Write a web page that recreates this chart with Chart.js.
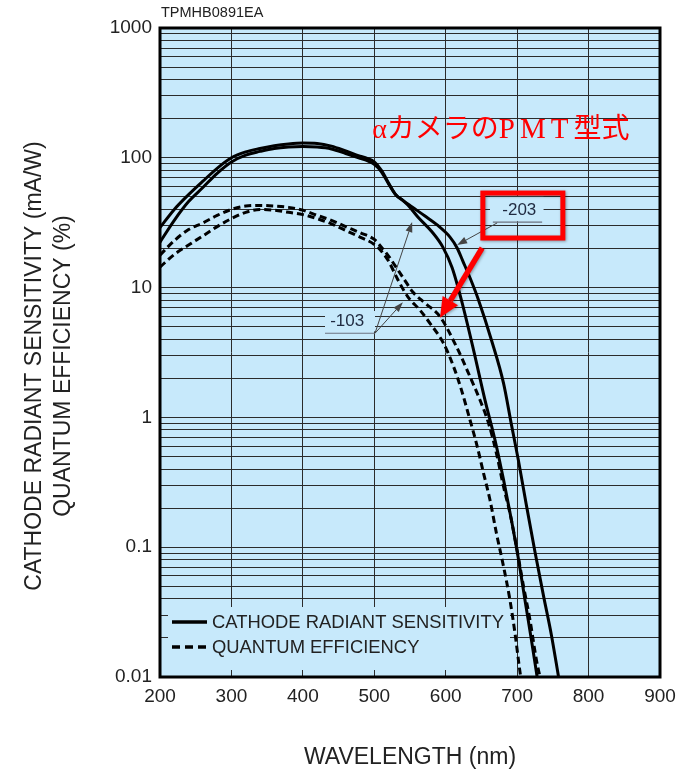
<!DOCTYPE html>
<html>
<head>
<meta charset="utf-8">
<script src="https://cdn.jsdelivr.net/npm/chart.js@4.4.1/dist/chart.umd.min.js"></script>
<style>
  html, body { margin: 0; padding: 0; background: #ffffff; }
  canvas { display: block; }
</style>
</head>
<body>
<canvas id="chart" width="679" height="773"></canvas>
<script>
// Axis ticks
const xTicks = [200, 300, 400, 500, 600, 700, 800, 900];
const decadeValues = [0.01, 0.1, 1, 10, 100, 1000];
const decadeLabels = ['0.01', '0.1', '1', '10', '100', '1000'];

// Cathode radiant sensitivity (mA/W), type -203
const sens203Nm = [200, 220, 240, 260, 280, 300, 320, 340, 360, 380, 400, 420, 440, 460, 480, 490, 500, 510, 520, 530, 540, 553, 571, 588, 606, 616, 624, 634, 646, 664, 681, 692, 702, 713, 725, 737, 748, 758];
const sens203 = [29, 40, 52, 66, 83, 100, 111, 118, 124, 128, 130, 129, 123, 113, 103, 99, 93, 80, 64, 52, 47, 41.8, 35.6, 30.4, 24.5, 20.2, 16, 11.9, 8.0, 3.95, 1.83, 0.88, 0.46, 0.21, 0.092, 0.042, 0.021, 0.01];

// Cathode radiant sensitivity (mA/W), type -103
const sens103Nm = [200, 220, 240, 260, 280, 300, 320, 340, 360, 380, 400, 420, 440, 460, 480, 490, 500, 510, 520, 530, 540, 547, 561, 581, 596, 609, 622, 639, 655, 669, 681, 692, 702, 711, 720, 728];
const sens103 = [22.4, 33, 46, 59, 76, 93, 105, 112, 118, 121, 122, 121, 117, 108, 99, 95, 89, 78, 63, 52, 47, 43.3, 35, 26.8, 20.5, 14.2, 8.0, 3.3, 1.36, 0.67, 0.33, 0.162, 0.08, 0.039, 0.0193, 0.01];

// Quantum efficiency (%), type -203
const qe203Nm = [200, 220, 240, 260, 280, 300, 320, 340, 360, 380, 400, 420, 440, 460, 480, 500, 510, 520, 530, 540, 554, 571, 592, 615, 634, 648, 660, 671, 681, 690, 699, 709, 718, 727, 732];
const qe203 = [17.8, 23, 28, 31.5, 36, 40, 42.5, 43, 42.5, 41.5, 39.5, 36, 33, 29.5, 26.5, 23.5, 20.5, 17.5, 14.5, 12, 9.25, 7.6, 5.97, 3.51, 2.06, 1.36, 0.9, 0.529, 0.292, 0.182, 0.101, 0.0497, 0.0275, 0.0135, 0.01];

// Quantum efficiency (%), type -103
const qe103Nm = [200, 220, 240, 260, 280, 300, 320, 340, 360, 380, 400, 420, 440, 460, 480, 500, 511, 520, 533, 547, 564, 578, 597, 611, 622, 634, 643, 653, 662, 671, 681, 690, 697, 703, 705];
const qe103 = [14.4, 18, 21.3, 25, 29.5, 34, 38, 40, 39.5, 38, 36.5, 34, 31, 27.5, 24.5, 21.5, 18.8, 16, 11.5, 8.5, 6.7, 5.31, 3.72, 2.46, 1.63, 0.955, 0.632, 0.371, 0.231, 0.128, 0.0708, 0.039, 0.0217, 0.012, 0.01];

const FONT = "'Liberation Sans', Arial, Helvetica, sans-serif";
const PLOT_BG = '#c7e9fb';
const GRID = '#2b2b2b';
const INK = '#222222';

function toPoints(nm, vals) {
  return nm.map((x, i) => ({ x: x, y: vals[i] }));
}

// every 1..9 multiple inside each decade gets a grid line
const logTicks = [];
decadeValues.forEach((d, i) => {
  const top = i === decadeValues.length - 1 ? 1 : 9;
  for (let k = 1; k <= top; k++) logTicks.push(+(k * d).toPrecision(6));
});

function solidSet(label, nm, vals) {
  return {
    label, data: toPoints(nm, vals),
    borderColor: '#000', borderWidth: 3, pointRadius: 0,
    cubicInterpolationMode: 'monotone', fill: false
  };
}
function dashedSet(label, nm, vals) {
  return {
    label, data: toPoints(nm, vals),
    borderColor: '#000', borderWidth: 3, borderDash: [7, 4], pointRadius: 0,
    cubicInterpolationMode: 'monotone', fill: false
  };
}

function arrow(ctx, x1, y1, x2, y2, len, half, color, width) {
  const ang = Math.atan2(y2 - y1, x2 - x1);
  const bx = x2 - len * Math.cos(ang), by = y2 - len * Math.sin(ang);
  ctx.strokeStyle = color; ctx.fillStyle = color; ctx.lineWidth = width;
  ctx.beginPath(); ctx.moveTo(x1, y1); ctx.lineTo(bx, by); ctx.stroke();
  ctx.beginPath();
  ctx.moveTo(x2, y2);
  ctx.lineTo(bx + half * Math.sin(ang), by - half * Math.cos(ang));
  ctx.lineTo(bx - half * Math.sin(ang), by + half * Math.cos(ang));
  ctx.closePath(); ctx.fill();
}

const decor = {
  id: 'decor',
  beforeDraw(chart) {
    const { ctx, chartArea: a } = chart;
    ctx.save();
    ctx.fillStyle = PLOT_BG;
    ctx.fillRect(a.left, a.top, a.right - a.left, a.bottom - a.top);
    ctx.restore();
  },
  beforeDatasetsDraw(chart) {
    const { ctx, chartArea: a, scales: { x, y } } = chart;
    ctx.save();
    ctx.fillStyle = PLOT_BG;
    // legend panel
    ctx.fillRect(a.left + 8, a.bottom - 70, 342, 63);
    // label panels
    const l1 = x.getPixelForValue(431), t1 = y.getPixelForValue(6.6);
    ctx.fillRect(l1, t1, x.getPixelForValue(501) - l1, y.getPixelForValue(4.6) - t1);
    const l2 = x.getPixelForValue(662), t2 = y.getPixelForValue(50);
    ctx.fillRect(l2, t2, x.getPixelForValue(737) - l2, y.getPixelForValue(32.5) - t2);
    ctx.restore();
  },
  afterDatasetsDraw(chart) {
    const { ctx, chartArea: a, scales: { x, y } } = chart;
    const px = (nm) => x.getPixelForValue(nm);
    const py = (v) => y.getPixelForValue(v);
    ctx.save();

    // frame
    ctx.strokeStyle = '#000'; ctx.lineWidth = 3;
    ctx.strokeRect(a.left, a.top, a.right - a.left, a.bottom - a.top);

    // legend
    const lx = a.left + 12;
    const r1 = a.bottom - 55, r2 = a.bottom - 30;
    ctx.lineWidth = 3.5; ctx.strokeStyle = '#000';
    ctx.beginPath(); ctx.moveTo(lx, r1); ctx.lineTo(lx + 35, r1); ctx.stroke();
    ctx.setLineDash([8, 5]);
    ctx.beginPath(); ctx.moveTo(lx, r2); ctx.lineTo(lx + 35, r2); ctx.stroke();
    ctx.setLineDash([]);
    ctx.fillStyle = INK; ctx.font = '18.4px ' + FONT;
    ctx.textAlign = 'left'; ctx.textBaseline = 'middle';
    ctx.fillText('CATHODE RADIANT SENSITIVITY', lx + 40, r1 + 1);
    ctx.fillText('QUANTUM EFFICIENCY', lx + 40, r2 + 1);

    // type labels with leader arrows
    ctx.fillStyle = '#1f2a40'; ctx.font = '17px ' + FONT;
    ctx.textAlign = 'center';
    ctx.fillText('-103', px(462), py(5.5));
    ctx.fillText('-203', px(703), py(39.6));
    ctx.strokeStyle = '#6b7280'; ctx.lineWidth = 1.2;
    ctx.beginPath(); ctx.moveTo(px(431), py(4.45)); ctx.lineTo(px(501), py(4.45)); ctx.stroke();
    ctx.beginPath(); ctx.moveTo(px(666), py(32)); ctx.lineTo(px(735), py(32)); ctx.stroke();
    arrow(ctx, px(501), py(4.45), px(553), py(32), 10, 3.5, '#444', 1);
    arrow(ctx, px(501), py(4.45), px(540), py(7.7), 10, 3.5, '#444', 1);
    arrow(ctx, px(672), py(31.5), px(616), py(21.3), 10, 3.5, '#444', 1);

    // red highlight box and arrow
    ctx.shadowColor = 'rgba(0,0,0,0.35)'; ctx.shadowBlur = 3;
    ctx.shadowOffsetX = 1; ctx.shadowOffsetY = 1;
    ctx.strokeStyle = '#ff0000'; ctx.lineWidth = 5;
    ctx.strokeRect(px(652), py(53.5), px(764) - px(652), py(24.1) - py(53.5));
    arrow(ctx, px(651), py(20.2), px(592), py(5.85), 20, 9, '#ff0000', 5.5);
    ctx.shadowColor = 'transparent'; ctx.shadowBlur = 0;
    ctx.shadowOffsetX = 0; ctx.shadowOffsetY = 0;

    // red caption
    ctx.fillStyle = '#ff0000';
    ctx.textAlign = 'left'; ctx.textBaseline = 'alphabetic';
    const caption = [
      ['αカメラの', "28px 'Liberation Serif', 'Noto Sans CJK JP', serif", '0px'],
      ['PMT', "29px 'Liberation Serif', serif", '5px'],
      ['型式', "28px 'Noto Sans CJK JP', sans-serif", '0px']
    ];
    let cx = px(497);
    const base = py(142);
    caption.forEach(([t, f, ls]) => {
      ctx.font = f; ctx.letterSpacing = ls;
      ctx.fillText(t, cx, base);
      cx += ctx.measureText(t).width;
    });
    ctx.letterSpacing = '0px';
    ctx.restore();
  },
  afterDraw(chart) {
    const { ctx, chartArea: a } = chart;
    ctx.save();
    ctx.fillStyle = INK;
    ctx.textBaseline = 'middle';
    ctx.textAlign = 'left';
    ctx.font = '14.5px ' + FONT;
    ctx.fillText('TPMHB0891EA', a.left + 1, 13);

    ctx.textAlign = 'center';
    ctx.font = '23px ' + FONT;
    ctx.fillText('WAVELENGTH (nm)', (a.left + a.right) / 2, 758);

    ctx.translate(35, 366);
    ctx.rotate(-Math.PI / 2);
    ctx.fillText('CATHODE RADIANT SENSITIVITY (mA/W)', 0, 0);
    ctx.fillText('QUANTUM EFFICIENCY (%)', 0, 29);
    ctx.restore();
  }
};

new Chart(document.getElementById('chart'), {
  type: 'line',
  data: {
    datasets: [
      solidSet('-203 CATHODE RADIANT SENSITIVITY', sens203Nm, sens203),
      solidSet('-103 CATHODE RADIANT SENSITIVITY', sens103Nm, sens103),
      dashedSet('-203 QUANTUM EFFICIENCY', qe203Nm, qe203),
      dashedSet('-103 QUANTUM EFFICIENCY', qe103Nm, qe103)
    ]
  },
  options: {
    responsive: false,
    animation: false,
    devicePixelRatio: 1,
    layout: { padding: { left: 0, top: 28, right: 19, bottom: 0 } },
    plugins: { legend: { display: false }, tooltip: { enabled: false } },
    scales: {
      x: {
        type: 'linear', min: 200, max: 900,
        afterFit(scale) { scale.height = 96; scale.paddingLeft = 0; scale.paddingRight = 0; },
        afterBuildTicks(scale) { scale.ticks = xTicks.map(v => ({ value: v })); },
        grid: { color: GRID, lineWidth: 1, drawTicks: false },
        border: { display: false },
        ticks: {
          autoSkip: false, maxRotation: 0, padding: 8, color: INK,
          font: { family: FONT, size: 19 },
          callback: (v) => String(v)
        }
      },
      y: {
        type: 'logarithmic', min: 0.01, max: 1000,
        afterFit(scale) { scale.width = 160; scale.paddingTop = 0; scale.paddingBottom = 0; },
        afterBuildTicks(scale) { scale.ticks = logTicks.map(v => ({ value: v })); },
        grid: { color: GRID, lineWidth: 1, drawTicks: false },
        border: { display: false },
        ticks: {
          autoSkip: false, padding: 8, color: INK,
          font: { family: FONT, size: 19 },
          callback: (v) => {
            const i = decadeValues.findIndex(d => Math.abs(d - v) / d < 1e-6);
            return i >= 0 ? decadeLabels[i] : '';
          }
        }
      }
    }
  },
  plugins: [decor]
});
</script>
</body>
</html>
